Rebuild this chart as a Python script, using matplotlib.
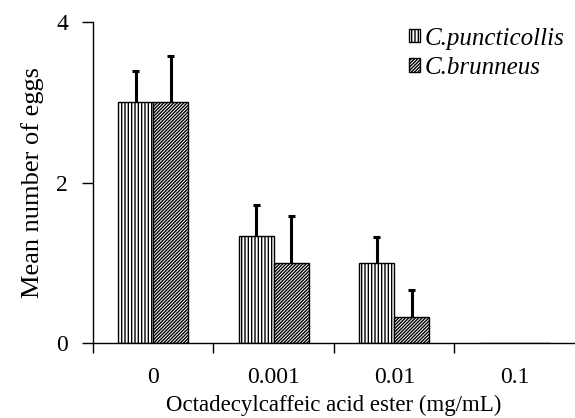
import matplotlib
matplotlib.use("Agg")
import matplotlib.pyplot as plt
import numpy as np

# data
doses = ['0', '0.001', '0.01', '0.1']
punct_mean = [3.0, 1.33, 1.0, 0.0]
punct_err = [0.39, 0.39, 0.32, 0.0]
brun_mean = [3.0, 1.0, 0.33, 0.0]
brun_err = [0.58, 0.58, 0.33, 0.0]

plt.rcParams['font.family'] = ['Liberation Serif', 'DejaVu Serif']
plt.rcParams['hatch.linewidth'] = 1.0

fig = plt.figure(figsize=(5.75, 4.18), dpi=100)
ax = fig.add_axes([0.1617, 0.179, 0.8383, 0.768])

x = np.arange(len(doses))
w = 0.29

ax.bar(x - w/2, punct_mean, w, color='white', edgecolor='black',
       linewidth=1, hatch='|||||', label='C.puncticollis')
ax.bar(x + w/2, brun_mean, w, color='white', edgecolor='black',
       linewidth=1, hatch='/' * 10, label='C.brunneus')

# upper error bars only, skip empty groups
cap = 0.03
for off, m, e in [(-w/2, punct_mean, punct_err), (w/2, brun_mean, brun_err)]:
    idx = [i for i in range(len(m)) if e[i] > 0]
    xs = np.array([x[i] + off for i in idx])
    lo = np.array([m[i] for i in idx])
    hi = lo + np.array([e[i] for i in idx])
    ax.vlines(xs, lo, hi, color='black', linewidth=2.2)
    ax.hlines(hi, xs - cap, xs + cap, color='black', linewidth=2.2)

ax.set_xlim(-0.5, 3.5)
ax.set_ylim(0, 4)
ax.set_yticks([0, 2, 4])
ax.tick_params(axis='y', direction='out', length=8, width=1, labelsize=17, pad=10)

ax.set_xticks([-0.5, 0.5, 1.5, 2.5])
ax.set_xticklabels([])
ax.set_xticks(x, minor=True)
ax.set_xticklabels(doses, minor=True)
ax.tick_params(axis='x', which='major', direction='out', length=7, width=1)
ax.tick_params(axis='x', which='minor', length=0, labelsize=17, pad=17)

for s in ['top', 'right']:
    ax.spines[s].set_visible(False)
ax.spines['left'].set_linewidth(1)
ax.spines['bottom'].set_linewidth(1)

ax.set_xlabel('Octadecylcaffeic acid ester (mg/mL)', fontsize=16.5, labelpad=5)
ax.set_ylabel('Mean number of eggs', fontsize=19, labelpad=9)

leg = ax.legend(loc='upper right', bbox_to_anchor=(1.01, 1.03), frameon=False,
                prop={'style': 'italic', 'size': 18}, handlelength=0.45,
                handleheight=0.45, handletextpad=0.2, labelspacing=0.3,
                borderaxespad=0.2)

fig.savefig('out.png', dpi=100)
